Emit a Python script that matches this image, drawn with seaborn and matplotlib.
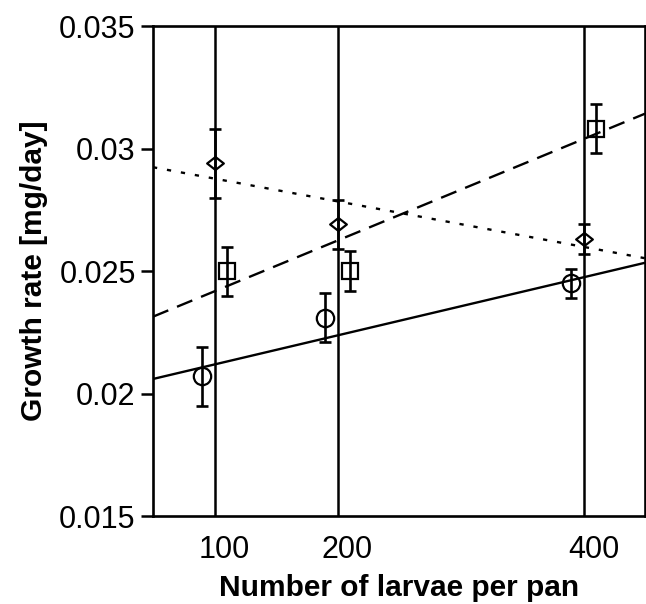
import numpy as np
import pandas as pd
import matplotlib
matplotlib.use("Agg")
import matplotlib.pyplot as plt
import matplotlib.transforms as mtransforms
from matplotlib.path import Path
import seaborn as sns

# Larval density treatments
density = [100, 200, 400]

# Mean growth rate [mg/day] and standard error for the three groups
rate_circle = [0.0207, 0.0231, 0.0245]
err_circle = [0.0012, 0.0010, 0.0006]

rate_square = [0.0250, 0.0250, 0.0308]
err_square = [0.0010, 0.0008, 0.0010]

rate_diamond = [0.0294, 0.0269, 0.0263]
err_diamond = [0.0014, 0.0010, 0.0006]

x_ticks = [100, 200, 400]
y_ticks = [0.015, 0.02, 0.025, 0.03, 0.035]
y_tick_labels = ["0.015", "0.02", "0.025", "0.03", "0.035"]

sns.set_style("ticks")
plt.rcParams["font.family"] = ["Liberation Sans", "DejaVu Sans"]
plt.rcParams["text.color"] = "black"
plt.rcParams["axes.labelcolor"] = "black"

fig = plt.figure(figsize=(6.46, 6.04), dpi=100)
ax = fig.add_axes([153 / 646, 1 - 516 / 604, 492 / 646, 490 / 604])
ax.set_xlim(50, 450)
ax.set_ylim(0.015, 0.035)

# vertical reference lines at each density
for xv in x_ticks:
    ax.axvline(xv, color="black", lw=1.8, zorder=1)

df = pd.DataFrame({
    "density": density * 3,
    "rate": rate_circle + rate_square + rate_diamond,
    "err": err_circle + err_square + err_diamond,
    "group": ["circle"] * 3 + ["square"] * 3 + ["diamond"] * 3,
})

diamond_marker = Path([(-1, 0), (0, 0.78), (1, 0), (0, -0.78), (-1, 0)],
                      [Path.MOVETO, Path.LINETO, Path.LINETO, Path.LINETO, Path.CLOSEPOLY])

styles = {
    "circle": dict(marker="o", ms=12.5, shift=-10, ls=(0, ())),
    "square": dict(marker="s", ms=11.5, shift=10, ls=(0, (7.0, 4.0))),
    "diamond": dict(marker=diamond_marker, ms=12, shift=0, ls=(0, (1.8, 4.2))),
}

for grp, st in styles.items():
    sub = df[df["group"] == grp]
    # least-squares trend line across the full axis width
    sns.regplot(data=sub, x="density", y="rate", ax=ax, scatter=False, ci=None,
                truncate=False,
                line_kws=dict(color="black", lw=1.7, linestyle=st["ls"], zorder=2))
    ax.errorbar(sub["density"] + st["shift"], sub["rate"], yerr=sub["err"],
                fmt="none", ecolor="black", elinewidth=1.9, capsize=4.5,
                capthick=1.9, zorder=3)
    ax.plot(sub["density"] + st["shift"], sub["rate"], linestyle="none",
            marker=st["marker"], ms=st["ms"], mfc="none", mec="black",
            mew=1.6, zorder=4)

ax.set_xlim(50, 450)
ax.set_ylim(0.015, 0.035)

ax.set_xticks(x_ticks)
ax.set_xticklabels([str(v) for v in x_ticks])
ax.set_yticks(y_ticks)
ax.set_yticklabels(y_tick_labels)

ax.tick_params(axis="x", length=0, pad=14, labelsize=22, colors="black")
ax.tick_params(axis="y", direction="out", length=8.5, width=1.8, pad=4,
               labelsize=22, colors="black")

# x tick labels sit a little to the right of their lines
offset = mtransforms.ScaledTranslation(10 / 100, 0, fig.dpi_scale_trans)
for lbl in ax.get_xticklabels():
    lbl.set_transform(lbl.get_transform() + offset)

for sp in ax.spines.values():
    sp.set_visible(True)
    sp.set_linewidth(1.9)
    sp.set_color("black")

ax.set_xlabel("Number of larvae per pan", fontsize=21.5, fontweight="bold",
              labelpad=6)
ax.set_ylabel("Growth rate [mg/day]", fontsize=21.5, fontweight="bold",
              labelpad=8)

fig.savefig("out.png", dpi=100)
